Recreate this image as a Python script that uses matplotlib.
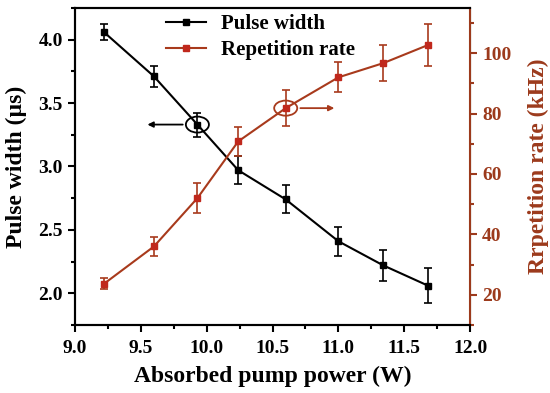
import numpy as np
import matplotlib
matplotlib.use("Agg")
import matplotlib.pyplot as plt
from matplotlib.patches import Ellipse
from matplotlib.lines import Line2D
from matplotlib.ticker import MultipleLocator

plt.rcParams["font.family"] = ["Liberation Serif", "DejaVu Serif"]
plt.rcParams["font.weight"] = "bold"

power = [9.22, 9.60, 9.93, 10.24, 10.60, 11.00, 11.34, 11.68]
pulse_width = [4.06, 3.71, 3.33, 2.97, 2.74, 2.41, 2.22, 2.06]
pulse_err = [0.06, 0.08, 0.095, 0.11, 0.11, 0.115, 0.12, 0.14]
rep_rate = [23.6, 36.0, 52.0, 70.8, 81.8, 92.0, 96.7, 102.7]
rep_err = [1.8, 3.0, 5.0, 4.8, 6.0, 5.0, 6.0, 7.0]

red = "#A83A1C"
axis_red = "#9C3A1C"
marker_red = "#C0281C"

fig = plt.figure(figsize=(5.5, 3.93), dpi=100)
ax = fig.add_axes([0.136, 0.173, 0.719, 0.807])
ax2 = ax.twinx()

ax.errorbar(power, pulse_width, yerr=pulse_err, color="black", marker="s",
            markersize=5, lw=1.5, capsize=3, elinewidth=1.2, capthick=1.2)
ax2.errorbar(power, rep_rate, yerr=rep_err, color=red, marker="s",
             markersize=5, lw=1.5, capsize=3, elinewidth=1.2, capthick=1.2,
             markerfacecolor=marker_red, markeredgecolor=marker_red)

ax.set_xlim(9.0, 12.0)
ax.set_ylim(1.75, 4.25)
ax2.set_ylim(10, 115)

ax.xaxis.set_major_locator(MultipleLocator(0.5))
ax.xaxis.set_minor_locator(MultipleLocator(0.25))
ax.yaxis.set_major_locator(MultipleLocator(0.5))
ax.yaxis.set_minor_locator(MultipleLocator(0.25))
ax2.yaxis.set_major_locator(MultipleLocator(20))
ax2.yaxis.set_minor_locator(MultipleLocator(10))

ax.tick_params(which="both", direction="out", labelsize=14, width=1.5)
ax.tick_params(which="major", length=5)
ax.tick_params(which="minor", length=3)
ax.tick_params(axis="x", pad=6)
ax2.tick_params(which="both", direction="out", labelsize=14, width=1.5,
                colors=axis_red)
ax2.tick_params(which="major", length=5)
ax2.tick_params(which="minor", length=3)

for s in ["left", "bottom", "top"]:
    ax.spines[s].set_linewidth(1.5)
    ax2.spines[s].set_linewidth(1.5)
ax2.spines["right"].set_linewidth(1.5)
ax2.spines["right"].set_color(axis_red)

ax.set_xlabel("Absorbed pump power (W)", fontsize=17, fontweight="bold",
              labelpad=6)
ax.set_ylabel("Pulse width (µs)", fontsize=17, fontweight="bold", labelpad=8)
ax2.set_ylabel("Rrpetition rate (kHz)", fontsize=17, fontweight="bold",
               color=axis_red, labelpad=12)

# circles with arrows pointing to the relevant axis
ax.add_patch(Ellipse((9.93, 3.33), 0.175, 0.126, fill=False, color="black", lw=1.3))
ax.annotate("", xy=(9.53, 3.33), xytext=(9.84, 3.33),
            arrowprops=dict(arrowstyle="-|>", color="black", lw=1.3,
                            mutation_scale=8))
ax2.add_patch(Ellipse((10.6, 81.8), 0.175, 5.0, fill=False, color=red, lw=1.3))
ax2.annotate("", xy=(10.99, 81.8), xytext=(10.69, 81.8),
             arrowprops=dict(arrowstyle="-|>", color=red, lw=1.3,
                             mutation_scale=8))

handles = [Line2D([], [], color="black", marker="s", markersize=4, lw=1.5),
           Line2D([], [], color=red, marker="s", markersize=4, lw=1.5,
                  markerfacecolor=marker_red, markeredgecolor=marker_red)]
ax.legend(handles, ["Pulse width", "Repetition rate"], loc="upper left",
          bbox_to_anchor=(0.2, 1.02), frameon=False, fontsize=15,
          handlelength=1.9, handletextpad=0.7, borderaxespad=0.2,
          labelspacing=0.3)

fig.savefig("out.png", dpi=100)
